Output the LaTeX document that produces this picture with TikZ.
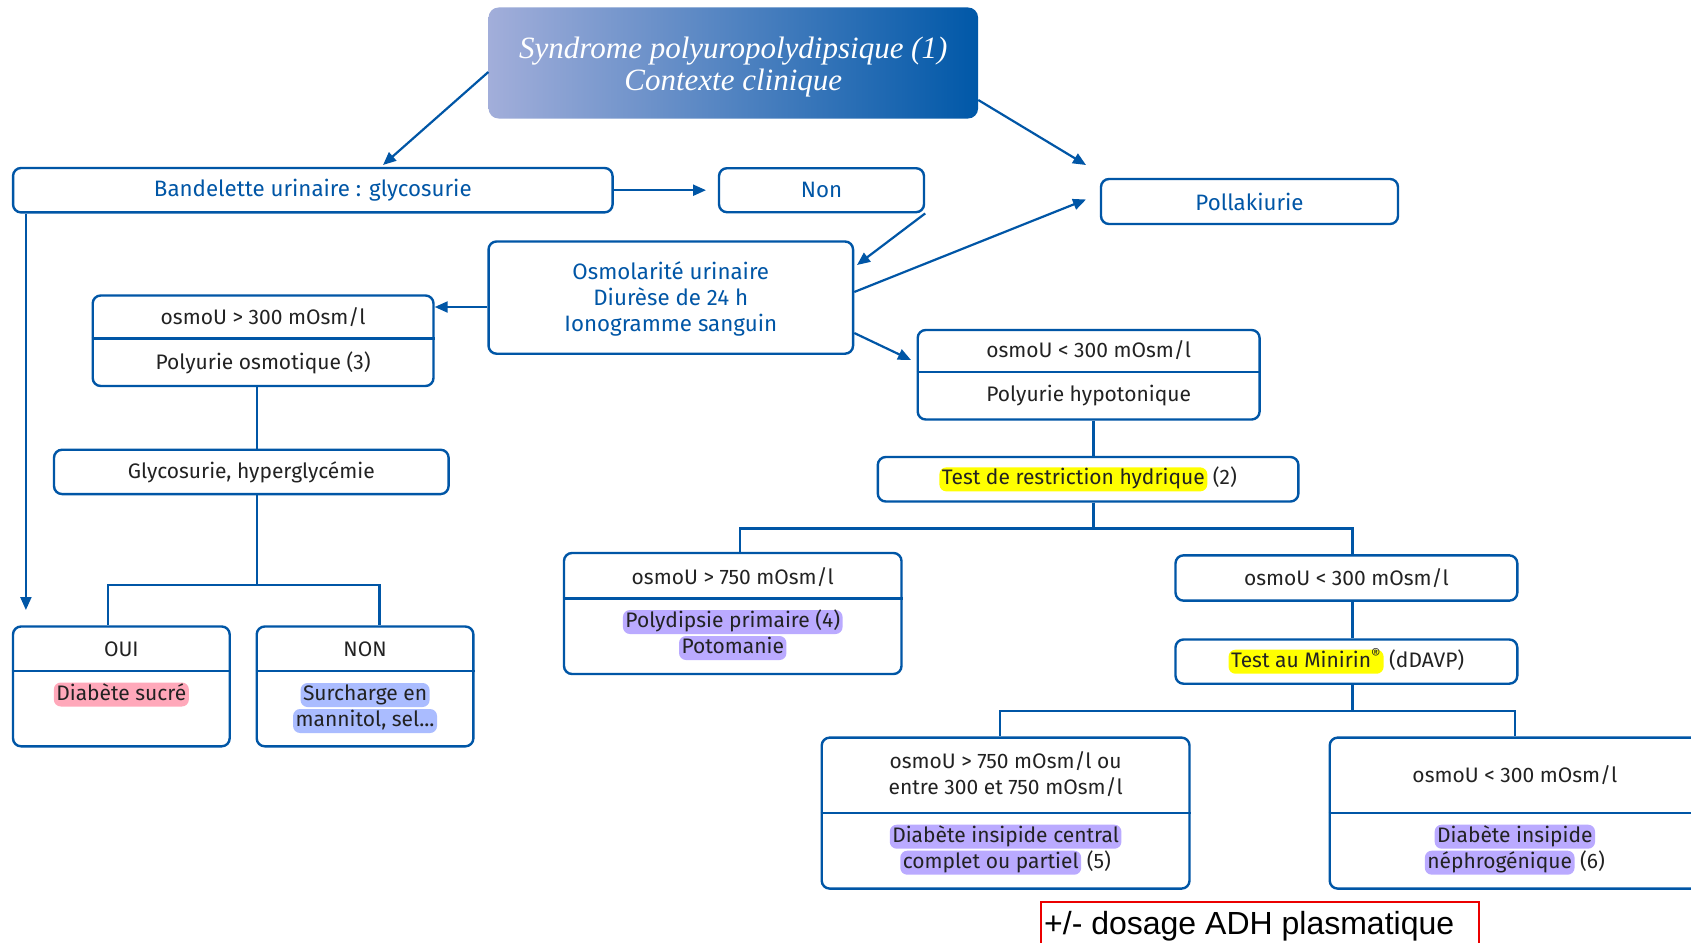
\documentclass[tikz,border=0pt]{standalone}
\usepackage{fontspec}
\setsansfont{Fira Sans}
\newfontfamily\arialf{Liberation Sans}
\newfontfamily\titlef{Liberation Serif}
\usetikzlibrary{arrows.meta,calc}
\definecolor{bblue}{RGB}{0,86,166}
\definecolor{tdark}{RGB}{34,34,34}
\definecolor{hlyel}{RGB}{255,255,0}
\definecolor{hlpur}{RGB}{186,170,255}
\definecolor{hlblu}{RGB}{170,188,255}
\definecolor{hlpink}{RGB}{255,168,186}
\definecolor{tleft}{RGB}{162,174,218}
\definecolor{tright}{RGB}{0,88,168}
\definecolor{redb}{RGB}{235,0,0}
\newcommand\hlt[2]{\tikz[baseline=(hlbox.base)]\node[fill=#1,draw=none,rounded corners=7pt,inner xsep=2.5pt,inner ysep=1.5pt,text height=16pt,text depth=5pt](hlbox){#2};}
\tikzset{
  box/.style={draw=bblue,line width=2.4pt,rounded corners=8pt,fill=white,inner sep=0pt},
  btxt/.style={text=bblue,font=\sffamily\fontsize{22.3}{26}\selectfont,align=center,inner sep=0pt},
  ktxt/.style={text=tdark,font=\sffamily\fontsize{21}{26}\selectfont,align=center,inner sep=0pt},
  conn/.style={draw=bblue,line width=2.2pt},
  arr/.style={conn,-{Triangle[length=13pt,width=11pt]}},
  divl/.style={draw=bblue,line width=2.4pt}
}
\begin{document}
\begin{tikzpicture}[x=1pt,y=-1pt]
\clip (0,0) rectangle (1691,942);
\fill[white] (0,0) rectangle (1691,942);
% title
\node[rounded corners=10pt,left color=tleft,right color=tright,draw=none,minimum width=489.5pt,minimum height=111pt] (title) at (733.3,63) {};
\node[text=white,align=center,inner sep=0pt,font=\titlef\itshape\fontsize{31}{32}\selectfont] (titlet) at (733.3,67) {Syndrome polyuropolydipsique (1)\\Contexte clinique};
% top row
\node[box,minimum width=599.5pt,minimum height=44.4pt] (band) at (312.8,190.2) {};
\node[btxt] (bandt) at (band) {Bandelette urinaire : glycosurie};
\node[box,minimum width=205pt,minimum height=44pt] (non) at (821.5,190.2) {};
\node[btxt] (nont) at (non) {Non};
\node[box,minimum width=297pt,minimum height=45pt] (poll) at (1249.5,201.5) {};
\node[btxt] (pollt) at (poll) {Pollakiurie};
\node[box,minimum width=364.5pt,minimum height=112.2pt] (osm) at (670.8,297.6) {};
\node[btxt] (osmt) at (670.8,298.5) {Osmolarité urinaire\\Diurèse de 24 h\\Ionogramme sanguin};
% left branch
\node[box,minimum width=340.8pt,minimum height=90.5pt] (h1) at (263.1,340.75) {};
\draw[divl] (h1.west |- 0,338.6) -- (h1.east |- 0,338.6);
\node[ktxt] (h1a) at (263.1,317) {osmoU > 300 mOsm/l};
\node[ktxt] (h1b) at (263.1,362.5) {Polyurie osmotique (3)};
\node[box,minimum width=394.6pt,minimum height=44.3pt] (gly) at (251.3,471.9) {};
\node[ktxt] (glyt) at (gly) {Glycosurie, hyperglycémie};
\node[box,minimum width=216.7pt,minimum height=119.8pt] (oui) at (121.35,686.4) {};
\draw[divl] (oui.west |- 0,670.8) -- (oui.east |- 0,670.8);
\node[ktxt] (ouia) at (121.35,649.2) {OUI};
\node[ktxt] (ouib) at (121.35,694.5) {\hlt{hlpink}{Diabète sucré}};
\node[box,minimum width=216.7pt,minimum height=119.8pt] (nonb) at (365.05,686.4) {};
\draw[divl] (nonb.west |- 0,670.8) -- (nonb.east |- 0,670.8);
\node[ktxt] (nonba) at (365.05,649.2) {NON};
\node[ktxt] (nonbb) at (365.05,708) {\hlt{hlblu}{Surcharge en}\\\hlt{hlblu}{mannitol, sel...}};
% right branch
\node[box,minimum width=341.9pt,minimum height=89.5pt] (h2) at (1088.65,374.75) {};
\draw[divl] (h2.west |- 0,372) -- (h2.east |- 0,372);
\node[ktxt] (h2a) at (1088.65,350.5) {osmoU < 300 mOsm/l};
\node[ktxt] (h2b) at (1088.65,395.8) {Polyurie hypotonique};
\node[box,minimum width=420.6pt,minimum height=44.5pt] (test) at (1088.1,479.25) {};
\node[ktxt] (testt) at (test) {\hlt{hlyel}{Test de restriction hydrique} (2)};
\node[box,minimum width=337.5pt,minimum height=121pt] (h3) at (732.75,613.5) {};
\draw[divl] (h3.west |- 0,598.5) -- (h3.east |- 0,598.5);
\node[ktxt] (h3a) at (732.75,577) {osmoU > 750 mOsm/l};
\node[ktxt] (h3b) at (732.75,635) {\hlt{hlpur}{Polydipsie primaire (4)}\\\hlt{hlpur}{Potomanie}};
\node[box,minimum width=341.8pt,minimum height=45.3pt] (r1) at (1346.4,578) {};
\node[ktxt] (r1t) at (r1) {osmoU < 300 mOsm/l};
\node[box,minimum width=341.8pt,minimum height=44.2pt] (mini) at (1346.4,661.6) {};
\node[ktxt] (minit) at (mini) {\hlt{hlyel}{Test au Minirin\textsuperscript{®}} (dDAVP)};
\node[box,minimum width=367.8pt,minimum height=151pt] (h4) at (1005.6,813.1) {};
\draw[divl] (h4.west |- 0,813) -- (h4.east |- 0,813);
\node[ktxt] (h4a) at (1005.6,773.7) {osmoU > 750 mOsm/l ou\\entre 300 et 750 mOsm/l};
\node[ktxt] (h4b) at (1005.6,849.7) {\hlt{hlpur}{Diabète insipide central}\\\hlt{hlpur}{complet ou partiel} (5)};
\node[box,minimum width=370.3pt,minimum height=151pt] (h5) at (1514.85,813.1) {};
\draw[divl] (h5.west |- 0,813) -- (h5.east |- 0,813);
\node[ktxt] (h5a) at (1514.85,775.4) {osmoU < 300 mOsm/l};
\node[ktxt] (h5b) at (1514.85,849.7) {\hlt{hlpur}{Diabète insipide}\\\hlt{hlpur}{néphrogénique} (6)};
% red box
\node[draw=redb,line width=2pt,minimum width=437.8pt,minimum height=80pt,inner sep=0pt] (adh) at (1259.6,941.5) {};
\node[anchor=base west,inner sep=0pt,font=\arialf\fontsize{32}{36}\selectfont,text=black] (adht) at (1044,934) {+/- dosage ADH plasmatique};
% arrow end points
\coordinate (e1) at (383,165);
\coordinate (e2) at (1086,165);
\coordinate (e3) at (706,190.2);
\coordinate (e4) at (857,265);
\coordinate (e5) at (1086,199.5);
\coordinate (e7) at (911,360);
\coordinate (e8) at (25.9,610);
% arrows
\draw[arr] ($(title.west)+(0,9)$) -- (e1);
\draw[arr] ($(title.east)+(0,37)$) -- (e2);
\draw[arr] (band.east) -- (e3);
\draw[arr] (non.south east) -- (e4);
\draw[arr] ($(osm.east)+(0,-5.6)$) -- (e5);
\draw[arr] (osm.west |- 0,307) -- (h1.east |- 0,307);
\draw[arr] ($(osm.east)+(0,35.4)$) -- (e7);
\draw[arr] (band.south west -| e8) -- (e8);
% tree lines
\coordinate (g0) at ($(gly.north)+(5.4,0)$);
\draw[conn] (g0) -- (g0 |- h1.south);
\coordinate (g1) at ($(gly.south)+(5.4,0)$);
\draw[conn] (g1) -- ++(0,89.4) -| ($(oui.north)+(-13.5,0)$);
\draw[conn] (g1) -- ++(0,89.4) -| ($(nonb.north)+(14.5,0)$);
\coordinate (t0) at ($(test.north)+(5.4,0)$);
\draw[conn] (t0) -- (t0 |- h2.south);
\coordinate (t1) at ($(test.south)+(5.4,0)$);
\draw[conn] (t1) -- ++(0,25.8) -| ($(h3.north)+(7,0)$);
\draw[conn] (t1) -- ++(0,25.8) -| ($(r1.north)+(6,0)$);
\coordinate (m0) at ($(mini.north)+(6,0)$);
\draw[conn] (m0) -- (m0 |- r1.south);
\coordinate (m1) at ($(mini.south)+(6,0)$);
\draw[conn] (m1) -- ++(0,26) -| ($(h4.north)+(-6,0)$);
\draw[conn] (m1) -- ++(0,26) -| (h5.north);
\end{tikzpicture}
\end{document}
